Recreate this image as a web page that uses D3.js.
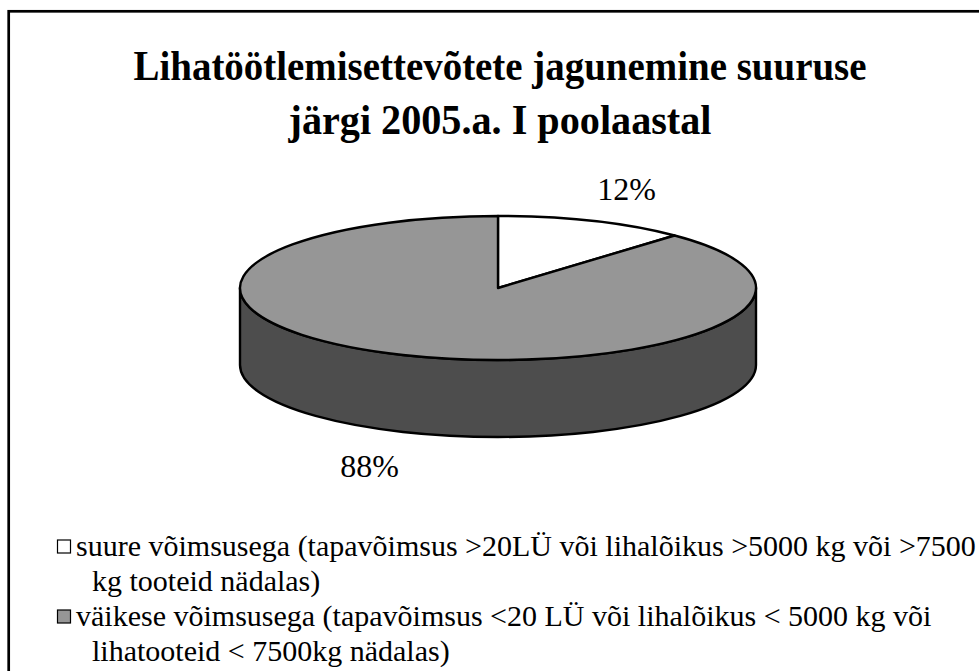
<!DOCTYPE html>
<html>
<head>
<meta charset="utf-8">
<script src="https://cdn.jsdelivr.net/npm/d3@7"></script>
<style>
  body { margin: 0; background: #fff; }
  svg { display: block; }
  text { font-family: "Liberation Serif", "Times New Roman", serif; fill: #000; }
</style>
</head>
<body>
<div id="chart"></div>
<script>
// data
var titleLines = ["Lihatöötlemisettevõtete jagunemine suuruse", "järgi 2005.a. I poolaastal"]
var categories = ["suure", "väikese"]
var shares = [12, 88]
var legendLines = [
  ["suure võimsusega (tapavõimsus >20LÜ või lihalõikus >5000 kg või >7500", "kg tooteid nädalas)"],
  ["väikese võimsusega (tapavõimsus <20 LÜ või lihalõikus < 5000 kg või", "lihatooteid < 7500kg nädalas)"]
]

var W = 979, H = 671
var topColor = { suure: "#ffffff", väikese: "#969696" }
var sideColor = { suure: "#cccccc", väikese: "#4d4d4d" }
var titleWidth = [733, 423]

var svg = d3.select("#chart").append("svg")
  .attr("width", W)
  .attr("height", H)

// outer frame (runs off the right and bottom edges)
svg.append("rect")
  .attr("x", 8.7).attr("y", 11.3)
  .attr("width", 1000).attr("height", 700)
  .attr("fill", "none")
  .attr("stroke", "#000")
  .attr("stroke-width", 2.7)

svg.append("g").selectAll("text")
  .data(titleLines).enter()
  .append("text")
  .attr("x", 500)
  .attr("y", function(d, i){ return 80 + i * 54 })
  .attr("text-anchor", "middle")
  .attr("textLength", function(d, i){ return titleWidth[i] })
  .attr("lengthAdjust", "spacingAndGlyphs")
  .style("font-size", "42px")
  .style("font-weight", "bold")
  .text(function(d){ return d })

// 3d pie
var cx = 498, cy = 288, rx = 258, ry = 72, depth = 77
var pie = d3.pie().sort(null).value(function(d){ return d.v })
var arcs = pie(categories.map(function(c, i){ return { c: c, v: shares[i] } }))

function pt(a, dy){
  return [cx + rx * Math.sin(a), cy - ry * Math.cos(a) + (dy || 0)]
}

function sidePath(a0, a1){
  var s = Math.max(a0, Math.PI / 2), e = Math.min(a1, Math.PI * 1.5)
  if (e <= s) return null
  var p0 = pt(s), p1 = pt(e), q1 = pt(e, depth), q0 = pt(s, depth)
  return "M" + p0 + "A" + rx + "," + ry + " 0 0 1 " + p1 +
    "L" + q1 + "A" + rx + "," + ry + " 0 0 0 " + q0 + "Z"
}

function topPath(a0, a1){
  var large = (a1 - a0) > Math.PI ? 1 : 0
  return "M" + cx + "," + cy + "L" + pt(a0) +
    "A" + rx + "," + ry + " 0 " + large + " 1 " + pt(a1) + "Z"
}

var pieG = svg.append("g")

pieG.selectAll("path.side")
  .data(arcs.filter(function(d){ return sidePath(d.startAngle, d.endAngle) })).enter()
  .append("path")
  .attr("class", "side")
  .attr("d", function(d){ return sidePath(d.startAngle, d.endAngle) })
  .attr("fill", function(d){ return sideColor[d.data.c] })
  .attr("stroke", "#000")
  .attr("stroke-width", 2.4)
  .attr("stroke-linejoin", "round")

pieG.selectAll("path.top")
  .data(arcs).enter()
  .append("path")
  .attr("class", "top")
  .attr("d", function(d){ return topPath(d.startAngle, d.endAngle) })
  .attr("fill", function(d){ return topColor[d.data.c] })
  .attr("stroke", "#000")
  .attr("stroke-width", 2.4)
  .attr("stroke-linejoin", "round")

// percent labels
var lrx = 349, lry = 108
pieG.selectAll("text")
  .data(arcs).enter()
  .append("text")
  .attr("x", function(d){ return cx + lrx * Math.sin((d.startAngle + d.endAngle) / 2) })
  .attr("y", function(d){
    var c = Math.cos((d.startAngle + d.endAngle) / 2)
    return cy - lry * c + (c < 0 ? depth : 0) + 12
  })
  .attr("text-anchor", "middle")
  .style("font-size", "32px")
  .text(function(d){ return d.data.v + "%" })

// legend
var legend = svg.append("g")
var item = legend.selectAll("g")
  .data(categories).enter()
  .append("g")
  .attr("transform", function(d, i){ return "translate(0," + (556 + i * 70) + ")" })

item.append("rect")
  .attr("x", 57.5).attr("y", -16)
  .attr("width", 13).attr("height", 13)
  .attr("fill", function(d){ return topColor[d] })
  .attr("stroke", "#000")
  .attr("stroke-width", 1.2)

item.selectAll("text")
  .data(function(d, i){ return legendLines[i] }).enter()
  .append("text")
  .attr("x", function(d, j){ return j == 0 ? 76 : 92 })
  .attr("y", function(d, j){ return j * 35 })
  .style("font-size", "30px")
  .text(function(d){ return d })
</script>
</body>
</html>
